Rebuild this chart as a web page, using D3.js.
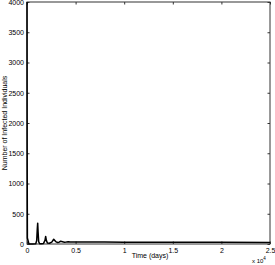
<!DOCTYPE html>
<html>
<head>
<meta charset="utf-8">
<script src="https://cdn.jsdelivr.net/npm/d3@7"></script>
<style>
  body { margin: 0; background: #fff; }
  text { font-family: "Liberation Sans", Arial, sans-serif; fill: #000; }
</style>
</head>
<body>
<div id="chart"><svg></svg></div>
<script>
const width = 275;
const height = 265;

// time in days, infected count
const days = [0, 15, 40, 200, 600, 900, 1000, 1060, 1100, 1140, 1200, 1300, 1500, 1700, 1850, 1920, 1990, 2100, 2300, 2550, 2750, 2950, 3150, 3300, 3470, 3650, 3850, 4050, 4250, 4450, 4700, 5000, 6000, 8000, 10000, 15000, 20000, 25000];
const infected = [4000, 1500, 100, 2, 1, 5, 60, 250, 345, 200, 40, 5, 3, 10, 60, 125, 60, 15, 12, 30, 78, 40, 25, 30, 45, 38, 30, 33, 38, 34, 32, 33, 34, 32, 30, 28, 27, 26];

const xTicks = [0, 5000, 10000, 15000, 20000, 25000];
const xTickLabels = ['0', '0.5', '1', '1.5', '2', '2.5'];
const yTicks = [0, 500, 1000, 1500, 2000, 2500, 3000, 3500, 4000];

const margin = {left: 27, right: 5, top: 2, bottom: 21};

const svg = d3.select('#chart').select('svg')
    .attr('width', width)
    .attr('height', height);

const x = d3.scaleLinear()
    .domain([0, 25000])
    .range([margin.left, width - margin.right]);

const y = d3.scaleLinear()
    .domain([0, 4000])
    .range([height - margin.bottom, margin.top]);

const tickLen = 2.5;
const axisColor = '#333';

// ticks pointing inward, on all four sides
function box(axis, transform) {
    const g = svg.append('g').attr('transform', transform).call(axis);
    g.select('.domain').remove();
    g.selectAll('line').attr('stroke', axisColor);
    return g;
}

const gx = box(d3.axisBottom(x).tickValues(xTicks).tickSizeInner(-tickLen).tickSizeOuter(0)
        .tickFormat((d, i) => xTickLabels[i]),
    `translate(0,${y(0)})`);
gx.selectAll('text').attr('dy', '0.9em').attr('y', 3).style('font-size', '7px').attr('fill', '#000');

box(d3.axisTop(x).tickValues(xTicks).tickSizeInner(-tickLen).tickFormat(''), `translate(0,${y(4000)})`);

const gy = box(d3.axisLeft(y).tickValues(yTicks).tickSizeInner(-tickLen).tickSizeOuter(0)
        .tickFormat(d3.format('d')),
    `translate(${x(0)},0)`);
gy.selectAll('text').attr('x', -3).style('font-size', '7px').attr('fill', '#000');

box(d3.axisRight(y).tickValues(yTicks).tickSizeInner(-tickLen).tickFormat(''), `translate(${x(25000)},0)`);

// frame
svg.append('rect')
    .attr('x', x(0)).attr('y', y(4000))
    .attr('width', x(25000) - x(0)).attr('height', y(0) - y(4000))
    .attr('fill', 'none').attr('stroke', axisColor).attr('stroke-width', 1);

// data line
const line = d3.line()
    .x((d, i) => x(days[i]))
    .y(d => y(d));

svg.append('path')
    .datum(infected)
    .attr('d', line)
    .attr('fill', 'none')
    .attr('stroke', '#000')
    .attr('stroke-width', 1.5)
    .attr('stroke-linejoin', 'round');

// labels
svg.append('text')
    .attr('x', 150).attr('y', 258)
    .attr('text-anchor', 'middle')
    .style('font-size', '7px')
    .text('Time (days)');

const sci = svg.append('text')
    .attr('x', 252).attr('y', 263)
    .style('font-size', '6px');
sci.append('tspan').text('x 10');
sci.append('tspan').attr('dy', -3).style('font-size', '4.5px').text('4');

svg.append('text')
    .attr('transform', `translate(7,${(y(0) + y(4000)) / 2}) rotate(-90)`)
    .attr('text-anchor', 'middle')
    .style('font-size', '7px')
    .text('Number of Infected Individuals');
</script>
</body>
</html>
